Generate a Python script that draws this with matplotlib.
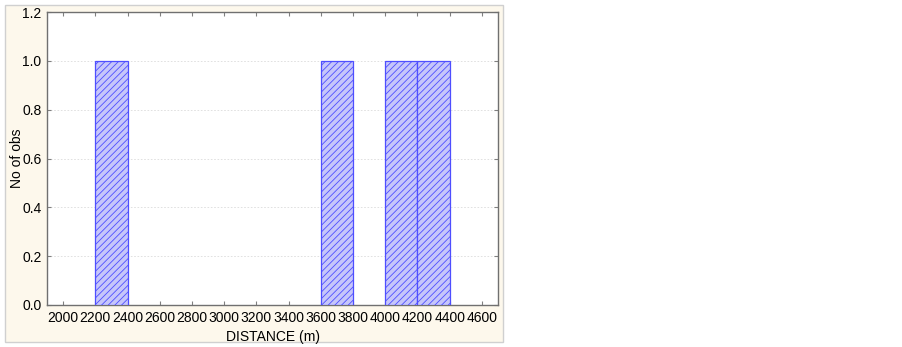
import matplotlib
matplotlib.use("Agg")
import matplotlib.pyplot as plt
from matplotlib.patches import Rectangle

plt.rcParams['font.family'] = ['Liberation Sans', 'DejaVu Sans']
plt.rcParams['hatch.linewidth'] = 0.6
plt.rcParams['hatch.color'] = '#9a9af8'

bin_starts = [2200, 3600, 4000, 4200]
bin_width = 200
counts = [1, 1, 1, 1]
x_ticks = [2000, 2200, 2400, 2600, 2800, 3000, 3200, 3400, 3600, 3800, 4000, 4200, 4400, 4600]
y_ticks = [0.0, 0.2, 0.4, 0.6, 0.8, 1.0, 1.2]

fig = plt.figure(figsize=(9.03, 3.47), dpi=100)
fig.patch.set_facecolor('white')
panel = Rectangle((5/903, 5/347), 498/903, 337/347, transform=fig.transFigure,
                  facecolor='#fdf8ec', edgecolor='#d0d0d0', linewidth=1.0, zorder=-10)
fig.add_artist(panel)

ax = fig.add_axes([47/903, 42/347, 451/903, 293/347])
ax.set_zorder(1)
ax.set_facecolor('white')
ax.bar(bin_starts, counts, width=bin_width, align='edge', facecolor='#c6c6fa',
       edgecolor='#4e4eff', linewidth=0.9, hatch='/////', zorder=3)

ax.set_xlim(1900, 4700)
ax.set_ylim(0, 1.2)
ax.set_xticks(x_ticks)
ax.set_yticks(y_ticks)
ax.set_yticklabels([f"{v:.1f}" for v in y_ticks])
ax.tick_params(direction='in', length=3, color='#808080', labelsize=10,
               top=True, right=True, pad=4)
ax.yaxis.grid(True, color='#dcdcdc', linestyle=(0, (2, 2)), linewidth=0.6, zorder=0)
ax.set_axisbelow(True)
for s in ax.spines.values():
    s.set_color('#707070')
    s.set_linewidth(1.0)
ax.set_xlabel('DISTANCE (m)', fontsize=10, labelpad=4)
ax.set_ylabel('No of obs', fontsize=10)
ax.yaxis.set_label_coords(-0.052, 0.5)

fig.savefig('out.png', dpi=100, facecolor=fig.get_facecolor())
